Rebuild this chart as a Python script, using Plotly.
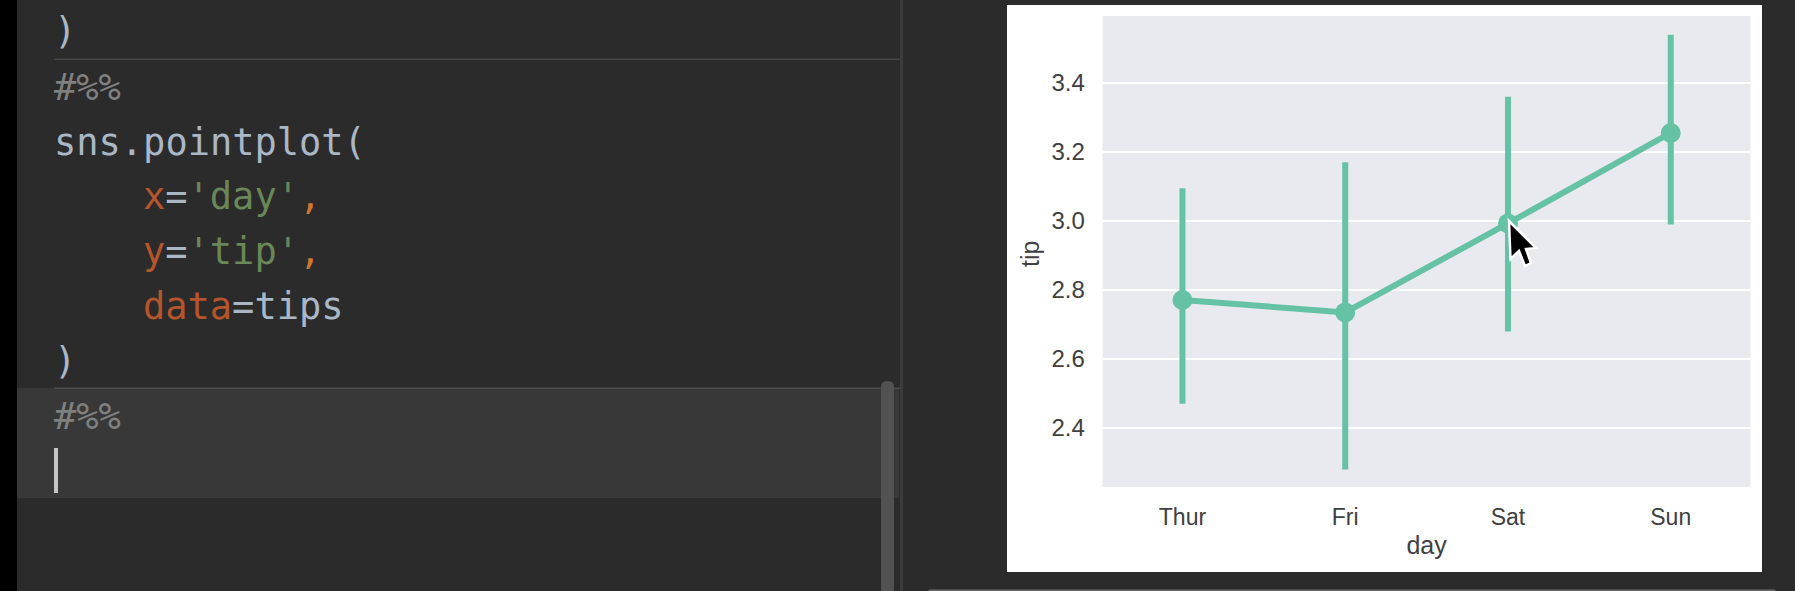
import plotly.graph_objects as go

W, H = 1795, 591

# ---- chart data ----
days = ["Thur", "Fri", "Sat", "Sun"]
tip_mean = [2.771, 2.735, 2.993, 3.255]
ci_low = [2.47, 2.28, 2.68, 2.99]
ci_high = [3.095, 3.17, 3.36, 3.54]
y_ticks = [2.4, 2.6, 2.8, 3.0, 3.2, 3.4]
y_range = [2.229, 3.594]

# ---- editor text (text, colour tokens) ----
PLAIN, ORANGE, GREEN, COMMA, COMMENT = "#a9b7c6", "#b5552c", "#6a8759", "#cc7832", "#808080"
code_rows = [
    (0, [(")", PLAIN)]),
    (0, [("#%%", COMMENT)]),
    (0, [("sns.pointplot(", PLAIN)]),
    (4, [("x", ORANGE), ("=", PLAIN), ("'day'", GREEN), (",", COMMA)]),
    (4, [("y", ORANGE), ("=", PLAIN), ("'tip'", GREEN), (",", COMMA)]),
    (4, [("data", ORANGE), ("=", PLAIN), ("tips", PLAIN)]),
    (0, [(")", PLAIN)]),
    (0, [("#%%", COMMENT)]),
]
code_row_y = [32, 87, 142, 197, 252, 306, 361, 416]


def px(x):
    return x / W


def py(y):
    return 1 - y / H


def rect(x0, y0, x1, y1, color, layer="below"):
    return dict(type="rect", xref="paper", yref="paper", x0=px(x0), x1=px(x1),
                y0=py(y1), y1=py(y0), fillcolor=color, line_width=0, layer=layer)


shapes = [
    rect(0, 0, 17, H, "#000000"),
    rect(17, 388, 899, 498, "#383838"),
    rect(54, 58.5, 900, 60, "#454545"),
    rect(54, 387.5, 900, 389, "#4a4a4a"),
    rect(900, 0, 903, H, "#3a3c3c"),
    rect(881, 386, 894, H, "#525252"),
    dict(type="path", xref="paper", yref="paper", layer="below", line_width=0, fillcolor="#525252",
         path=f"M {px(881)} {py(387)} Q {px(881)} {py(381)} {px(887.5)} {py(381)} "
              f"Q {px(894)} {py(381)} {px(894)} {py(387)} Z"),
    rect(54, 448, 58, 493, "#c4c4c4"),
    rect(929, 589.5, 1775, 591, "#6a6a6a"),
    rect(1007, 5, 1762, 572, "#ffffff"),
    rect(1102.7, 16, 1750.5, 487, "#e9e9f0"),
]

cursor = [(1509, 221), (1510.5, 259), (1519, 251), (1525, 266), (1531, 263), (1526, 249), (1536, 248)]
shapes.append(dict(type="path", xref="paper", yref="paper", layer="above",
                   fillcolor="#000000", line=dict(color="#ffffff", width=2.5),
                   path="M " + " L ".join(f"{px(a)} {py(b)}" for a, b in cursor) + " Z"))

annotations = []
for (indent, tokens), yc in zip(code_rows, code_row_y):
    html = "".join(f'<span style="color:{c}">{t}</span>' for t, c in tokens)
    annotations.append(dict(text=html, xref="paper", yref="paper", x=px(52 + indent * 22.25), y=py(yc),
                            xanchor="left", yanchor="middle", showarrow=False, align="left",
                            font=dict(family="DejaVu Sans Mono", size=37, color=PLAIN)))

X_TICK_FONT = dict(family="Liberation Sans", size=23, color="#404040")
Y_TICK_FONT = dict(family="Liberation Sans", size=24, color="#404040")
annotations.append(dict(text="tip", xref="paper", yref="paper", x=px(1030), y=py(254),
                        xanchor="center", yanchor="middle", textangle=-90, showarrow=False,
                        font=dict(family="Liberation Sans", size=25, color="#404040")))

fig = go.Figure(go.Scatter(
    x=days, y=tip_mean, mode="lines+markers",
    line=dict(color="#66c2a5", width=6),
    marker=dict(color="#66c2a5", size=20),
    error_y=dict(type="data", symmetric=False,
                 array=[h - m for h, m in zip(ci_high, tip_mean)],
                 arrayminus=[m - l for l, m in zip(ci_low, tip_mean)],
                 color="#66c2a5", thickness=6, width=0),
    cliponaxis=False, hoverinfo="skip", showlegend=False,
))

fig.update_layout(
    width=W, height=H, autosize=False,
    margin=dict(l=0, r=0, t=0, b=0),
    paper_bgcolor="#2b2b2b", plot_bgcolor="rgba(0,0,0,0)",
    shapes=shapes, annotations=annotations,
    xaxis=dict(domain=[px(1102.7), px(1750.5)], type="category", categoryorder="array",
               categoryarray=days, range=[-0.49, 3.49], showgrid=False, zeroline=False,
               showline=False, ticks="outside", ticklen=9, tickcolor="rgba(0,0,0,0)",
               tickfont=X_TICK_FONT, automargin=False,
               title=dict(text="day", font=dict(family="Liberation Sans", size=25, color="#404040"),
                          standoff=7)),
    yaxis=dict(domain=[py(487), py(16)], range=y_range, tickmode="array", tickvals=y_ticks,
               ticktext=[f"{v:.1f}" for v in y_ticks], showgrid=True, gridcolor="#ffffff",
               gridwidth=2, zeroline=False, showline=False, ticks="outside", ticklen=12,
               tickcolor="rgba(0,0,0,0)", tickfont=Y_TICK_FONT, automargin=False),
)

fig.write_html("out.html", config=dict(displayModeBar=False),
               post_script="document.body.style.margin='0';document.body.style.overflow='hidden';")
